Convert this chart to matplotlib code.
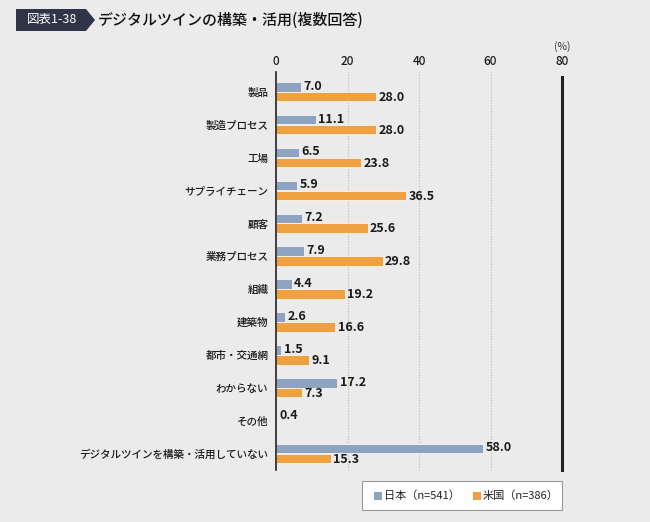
import matplotlib
matplotlib.use("Agg")
import matplotlib.pyplot as plt
import numpy as np
from matplotlib.patches import Polygon, Rectangle

plt.rcParams['font.family'] = ['Noto Sans CJK JP', 'DejaVu Sans']

categories = ["製品", "製造プロセス", "工場", "サプライチェーン", "顧客", "業務プロセス",
              "組織", "建築物", "都市・交通網", "わからない", "その他", "デジタルツインを構築・活用していない"]
japan = [7.0, 11.1, 6.5, 5.9, 7.2, 7.9, 4.4, 2.6, 1.5, 17.2, 0.4, 58.0]
usa = [28.0, 28.0, 23.8, 36.5, 25.6, 29.8, 19.2, 16.6, 9.1, 7.3, np.nan, 15.3]
series_names = ["日本（n=541）", "米国（n=386）"]
xticks = [0, 20, 40, 60, 80]

bg = "#ebebeb"
c_jp = "#8da3bf"
c_us = "#efa141"

fig = plt.figure(figsize=(6.5, 5.22), dpi=100, facecolor=bg)
ax = fig.add_axes([276/650, 1-470/522, (562-276)/650, (470-72)/522])
ax.set_facecolor(bg)

y = np.arange(len(categories))
h = 0.29
ax.barh(y - 0.15, japan, height=h, color=c_jp, edgecolor="white", linewidth=0.5)
ax.barh(y + 0.15, usa, height=h, color=c_us, edgecolor="white", linewidth=0.5)

for yi, v in zip(y, japan):
    if not np.isnan(v):
        ax.text(v + 0.7, yi - 0.17, f"{v:.1f}", va="center", ha="left", fontsize=9,
                fontweight="bold", color="#1a1a1a")
for yi, v in zip(y, usa):
    if not np.isnan(v):
        ax.text(v + 0.7, yi + 0.17, f"{v:.1f}", va="center", ha="left", fontsize=9,
                fontweight="bold", color="#1a1a1a")

ax.set_xlim(0, 80)
ax.set_ylim(len(categories) - 0.5, -0.6)
ax.set_yticks(y)
ax.set_yticklabels(categories, fontsize=7.6, color="#1a1a1a", fontweight="medium")
ax.tick_params(axis="y", length=0, pad=5.5)
ax.xaxis.tick_top()
ax.set_xticks(xticks)
ax.set_xticklabels([str(t) for t in xticks], fontsize=8.5, color="#1a1a1a", fontweight="medium")
ax.tick_params(axis="x", length=0, pad=3)
for t in xticks[1:-1]:
    ax.axvline(t, color="#bbbbbb", linestyle=(0, (1, 1.5)), linewidth=0.8, zorder=0)
for s in ["top", "bottom"]:
    ax.spines[s].set_visible(False)
ax.spines["left"].set_linewidth(1.2)
ax.spines["left"].set_color("#222222")
ax.spines["right"].set_linewidth(2.2)
ax.spines["right"].set_color("#222222")
ax.spines["right"].set_bounds(len(categories) - 0.5, -0.45)

fig.text(562/650, 1-47/522, "(%)", ha="center", va="center", fontsize=7.5, color="#333333")

# title box
fig.patches.append(Polygon([[16/650, 1-9/522], [86/650, 1-9/522], [95/650, 1-20/522],
                            [86/650, 1-31/522], [16/650, 1-31/522]], closed=True,
                           transform=fig.transFigure, facecolor="#2f3447", edgecolor="none"))
fig.text(52/650, 1-20/522, "図表1-38", ha="center", va="center", fontsize=9, color="white")
fig.text(98/650, 1-20/522, "デジタルツインの構築・活用(複数回答)", ha="left", va="center",
         fontsize=10.8, color="#111111", fontweight="medium")

# legend
fig.patches.append(Rectangle((362/650, 1-510/522), 200/650, 29/522, transform=fig.transFigure,
                             facecolor="white", edgecolor="#999999", linewidth=0.8))
fig.patches.append(Rectangle((374/650, 1-500/522), 8/650, 8/522, transform=fig.transFigure,
                             facecolor=c_jp, edgecolor="none"))
fig.text(384/650, 1-495.5/522, series_names[0], ha="left", va="center", fontsize=8, color="#222222")
fig.patches.append(Rectangle((473/650, 1-500/522), 8/650, 8/522, transform=fig.transFigure,
                             facecolor=c_us, edgecolor="none"))
fig.text(483/650, 1-495.5/522, series_names[1], ha="left", va="center", fontsize=8, color="#222222")

fig.savefig("out.png", dpi=100, facecolor=bg)
